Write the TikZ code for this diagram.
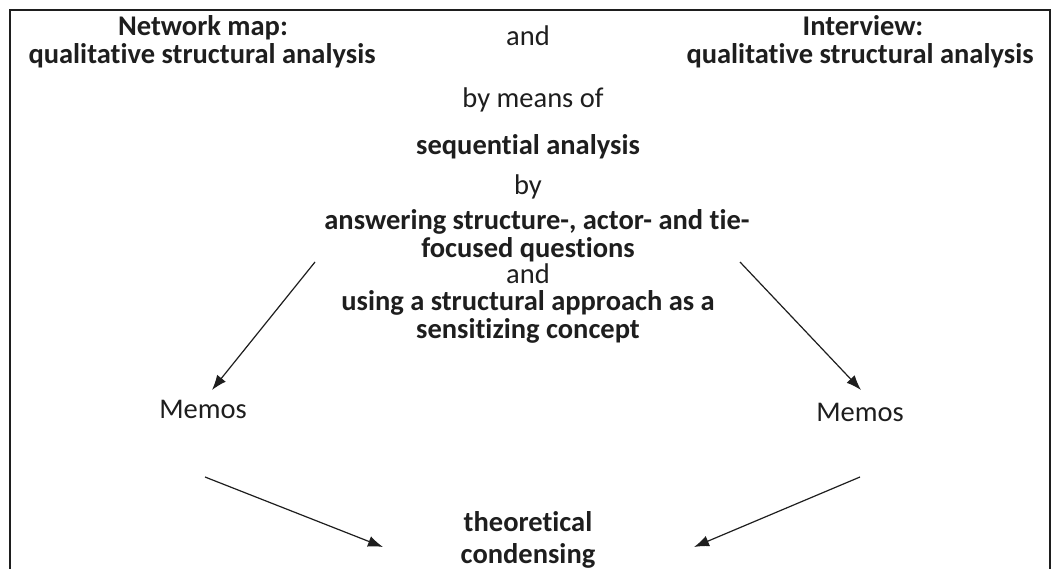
\documentclass[tikz,border=0pt]{standalone}
\usepackage{fontspec}
\setmainfont{Carlito}[Ligatures=NoCommon]
\usetikzlibrary{arrows.meta}
\definecolor{inkgray}{RGB}{30,30,30}

\tikzset{
  txt/.style={font=\fontsize{28.5}{30}\selectfont, text=inkgray, anchor=base, inner sep=0pt},
  btxt/.style={txt, font=\fontsize{28.5}{30}\selectfont\bfseries},
  flow/.style={-{Latex[length=15pt,width=11pt]}, line width=1.2pt, draw=inkgray},
}

\begin{document}
\begin{tikzpicture}[x=1pt, y=-1pt]
    \useasboundingbox (0,0) rectangle (1053,569);
    \fill[white] (0,0) rectangle (1053,569);
    \draw[line width=1.6pt, draw=inkgray] (10,10) rectangle (1050,620);

    % sources
    \node[btxt] (netmapA) at (203,36) {Network map:};
    \node[btxt] (netmapB) at (202,64) {qualitative structural analysis};
    \node[btxt] (interA) at (863,36) {Interview:};
    \node[btxt] (interB) at (860,64) {qualitative structural analysis};
    \node[txt] (andA) at (528,46) {and};

    % method
    \node[txt] (bymeans) at (533,108) {by means of};
    \node[btxt] (seq) at (528,155) {sequential analysis};
    \node[txt] (by) at (528,195) {by};
    \node[btxt] (answerA) at (537,230) {answering structure-, actor- and tie-};
    \node[btxt] (answerB) at (528,258) {focused questions};
    \node[txt] (andB) at (528,284) {and};
    \node[btxt] (usingA) at (528,311) {using a structural approach as a};
    \node[btxt] (usingB) at (528,339) {sensitizing concept};

    % memos and result
    \node[txt] (memosL) at (203,419) {Memos};
    \node[txt] (memosR) at (860,422) {Memos};
    \node[btxt] (theoA) at (528,531) {theoretical};
    \node[btxt] (theoB) at (528,563) {condensing};

    \coordinate (outL) at (315,262);
    \coordinate (outR) at (740,262);
    \coordinate (inL) at (212,390);
    \coordinate (inR) at (861,390);
    \coordinate (memoOutL) at (205,477);
    \coordinate (memoOutR) at (860,477);
    \coordinate (theoInL) at (383,547);
    \coordinate (theoInR) at (694,547);

    \draw[flow] (outL) -- (inL);
    \draw[flow] (outR) -- (inR);
    \draw[flow] (memoOutL) -- (theoInL);
    \draw[flow] (memoOutR) -- (theoInR);
\end{tikzpicture}
\end{document}
